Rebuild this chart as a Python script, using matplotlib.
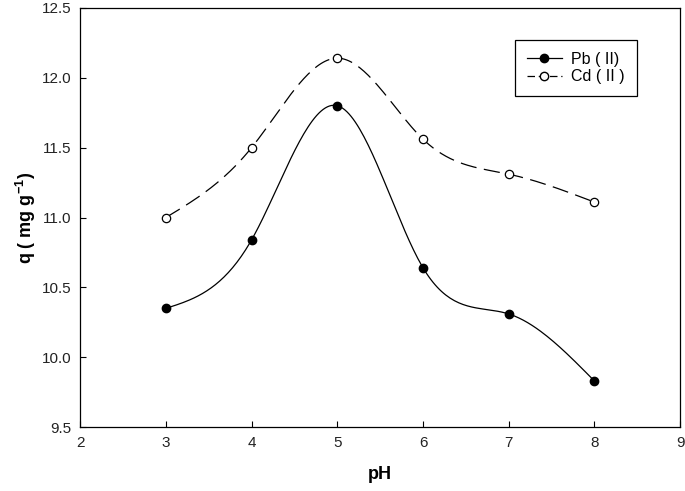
import matplotlib.pyplot as plt
import numpy as np

plt.rcParams["font.family"] = ["Liberation Sans", "DejaVu Sans"]
plt.rcParams["mathtext.fontset"] = "custom"
plt.rcParams["mathtext.rm"] = "Liberation Sans"
plt.rcParams["mathtext.bf"] = "Liberation Sans:bold"

ph = [3, 4, 5, 6, 7, 8]
pb = [10.35, 10.84, 11.80, 10.64, 10.31, 9.83]
cd = [11.00, 11.50, 12.14, 11.56, 11.31, 11.11]


def smooth(x, y, n=200):
    # natural cubic spline, only for drawing the line through the points
    x = np.asarray(x, float)
    y = np.asarray(y, float)
    h = np.diff(x)
    m = len(x)
    A = np.zeros((m, m))
    b = np.zeros(m)
    A[0, 0] = A[-1, -1] = 1
    for i in range(1, m - 1):
        A[i, i - 1] = h[i - 1]
        A[i, i] = 2 * (h[i - 1] + h[i])
        A[i, i + 1] = h[i]
        b[i] = 6 * ((y[i + 1] - y[i]) / h[i] - (y[i] - y[i - 1]) / h[i - 1])
    M = np.linalg.solve(A, b)
    xs = np.linspace(x[0], x[-1], n)
    idx = np.clip(np.searchsorted(x, xs) - 1, 0, m - 2)
    t0 = x[idx + 1] - xs
    t1 = xs - x[idx]
    hh = h[idx]
    ys = (M[idx] * t0**3 / (6 * hh) + M[idx + 1] * t1**3 / (6 * hh)
          + (y[idx] / hh - M[idx] * hh / 6) * t0
          + (y[idx + 1] / hh - M[idx + 1] * hh / 6) * t1)
    return xs, ys


fig = plt.figure(figsize=(6.85, 4.91), dpi=100)
ax = fig.add_axes([0.117, 0.130, 0.876, 0.854])

xs, ys = smooth(ph, pb)
ax.plot(xs, ys, color="black", linewidth=0.9)
xs, ys = smooth(ph, cd)
ax.plot(xs, ys, color="black", linewidth=0.9, dashes=(13, 6))

ax.plot(ph, pb, "o", color="black", markersize=6, zorder=3)
ax.plot(ph, cd, "o", color="black", markerfacecolor="white",
        markersize=6, markeredgewidth=0.9, zorder=3)

h1, = ax.plot([], [], "-o", color="black", linewidth=0.9, markersize=6)
h2, = ax.plot([], [], "o", color="black", markerfacecolor="white",
              markersize=6, linewidth=0.9, linestyle=(0, (6, 3)))
leg = ax.legend([h1, h2], ["Pb ( II)", "Cd ( II )"], loc="upper right",
                bbox_to_anchor=(0.928, 0.924), borderaxespad=0,
                fancybox=False, edgecolor="black", framealpha=1,
                fontsize=11.5, handlelength=2.2, borderpad=0.75,
                labelspacing=0.15, handletextpad=0.6, markerfirst=True)
leg.get_frame().set_linewidth(0.9)

ax.set_xlim(2, 9)
ax.set_ylim(9.5, 12.5)
ax.set_xticks(range(2, 10))
ax.set_yticks(np.arange(9.5, 12.51, 0.5))
ax.yaxis.set_major_formatter(plt.FormatStrFormatter("%.1f"))
ax.tick_params(direction="in", length=4, labelsize=11, top=False,
               right=False, pad=6, color="black", labelcolor="#222222")
for s in ax.spines.values():
    s.set_linewidth(0.9)

ax.set_xlabel("pH", fontsize=13, fontweight="bold", labelpad=12)
ax.set_ylabel(r"q ( mg g$^{\mathbf{-1}}$)", fontsize=13, fontweight="bold",
              labelpad=3)

plt.savefig("out.png", dpi=100)
plt.close()
